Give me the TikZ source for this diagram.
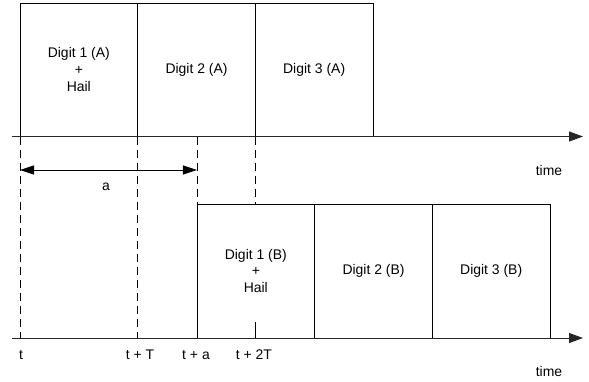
\documentclass[tikz,border=0pt]{standalone}
\usepackage{fontspec}
\setmainfont{Liberation Sans}
\usetikzlibrary{arrows.meta}
\begin{document}
\begin{tikzpicture}[x=1bp,y=-1bp,
  box/.style={draw=black, line width=0.8bp, minimum width=117.67bp, inner sep=0pt, outer sep=0pt, align=center, font=\fontsize{14}{17}\selectfont},
  topbox/.style={box, minimum height=133.5bp},
  botbox/.style={box, minimum height=134bp},
  axis/.style={draw=black!85, line width=1bp, -{Triangle[length=14bp,width=10bp]}},
  dashline/.style={draw=black, line width=0.8bp, dash pattern=on 8bp off 5bp},
  tick/.style={draw=black, line width=0.8bp},
  dim/.style={draw=black, line width=0.8bp, {Triangle[length=14bp,width=9bp]}-{Triangle[length=14bp,width=9bp]}},
  lbl/.style={font=\fontsize{14}{17}\selectfont, inner sep=0pt}]
\useasboundingbox (0,0) rectangle (589,381);
% top row
\node[topbox] (a1) at (78.83,69.75) {Digit 1 (A)\\+\\Hail};
\node[topbox, anchor=west] (a2) at (a1.east) {Digit 2 (A)};
\node[topbox, anchor=west] (a3) at (a2.east) {Digit 3 (A)};
% bottom row
\node[botbox] (b1) at (255.83,271) {Digit 1 (B)\\+\\Hail};
\node[botbox, anchor=west] (b2) at (b1.east) {Digit 2 (B)};
\node[botbox, anchor=west] (b3) at (b2.east) {Digit 3 (B)};
% axes
\coordinate (ta0) at (12,136.5);
\coordinate (ta1) at (583,136.5);
\coordinate (ba0) at (12,338);
\coordinate (ba1) at (583,338);
\draw[axis] (ta0) -- (ta1);
\draw[axis] (ba0) -- (ba1);
% dashed guides
\draw[dashline] (a1.south west) -- (a1.south west |- ba0);
\draw[dashline] (a1.south east) -- (a1.south east |- ba0);
\draw[dashline] (b1.north west |- ta0) -- (b1.north west);
\draw[dashline] (a3.south west) -- (a3.south west |- b1.north);
% tick at t+2T
\coordinate (tk) at (255.83,322);
\draw[tick] (tk) -- (b1.south);
% dimension a
\coordinate (da0) at (20,170);
\coordinate (da1) at (b1.west |- da0);
\draw[dim] (da0) -- (da1);
\node[lbl] (la) at (106,187) {a};
% time labels
\node[lbl] (time1) at (549,171) {time};
\node[lbl] (time2) at (549,372) {time};
\node[lbl] (l1) at (21,355) {t};
\node[lbl] (l2) at (140,355) {t + T};
\node[lbl] (l3) at (196,355) {t + a};
\node[lbl] (l4) at (254,355) {t + 2T};
\end{tikzpicture}
\end{document}
